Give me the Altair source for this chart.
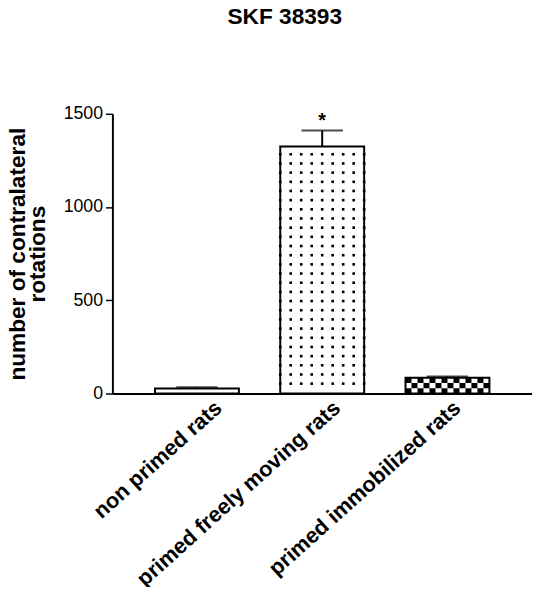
import altair as alt
import numpy as np
import pandas as pd

categories = ["non primed rats", "primed freely moving rats", "primed immobilized rats"]
means = [27, 1325, 85]
sems = [7, 85, 7]
stars = ["", "*", ""]

df = pd.DataFrame({"cat": categories, "mean": means, "sem": sems, "star": stars})
df["top"] = df["mean"] + df["sem"]

# dotted texture for the second bar (pattern decoration)
dot_cols = list(range(9))
dot_rows = list(np.arange(53, means[1] - 30, 49.2))
dots = pd.DataFrame([{"cat": categories[1], "col": c, "yv": r} for c in dot_cols for r in dot_rows])

# checkerboard texture for the third bar
chk_cols = 14
chk_rows = 3
chk = []
for c in range(chk_cols):
    for r in range(chk_rows):
        if (c + r) % 2 == 0:
            chk.append({"cat": categories[2], "col2": c,
                        "y0": means[2] * r / chk_rows, "y1": means[2] * (r + 1) / chk_rows})
chk = pd.DataFrame(chk)

FONT = "Liberation Sans"

label_offset = {
    "condition": [
        {"test": "datum.value == 'non primed rats'", "value": 22},
        {"test": "datum.value == 'primed freely moving rats'", "value": 15},
    ],
    "value": 10,
}

xenc = alt.X("cat:N", sort=categories, title=None,
             scale=alt.Scale(paddingInner=0.33, paddingOuter=0.34),
             axis=alt.Axis(labelAngle=-42, labelFontSize=22, labelFontWeight="bold",
                           labelColor="black", labelAlign="right", labelBaseline="middle",
                           labelPadding=11, ticks=False, domainColor="black", domainWidth=2,
                           labelFont=FONT, labelLimit=0, labelOffset=label_offset))
yscale = alt.Scale(domain=[0, 1500])

base = alt.Chart(df)

bars = base.mark_bar(fill="white", stroke=None).encode(
    x=xenc,
    y=alt.Y("mean:Q", scale=yscale,
            title=["number of contralateral", "rotations"],
            axis=alt.Axis(values=[0, 500, 1000, 1500], format="d", grid=False, labelFontSize=18,
                          labelColor="black", labelFont=FONT, tickColor="black",
                          tickSize=7, tickWidth=1.5, domainColor="black", domainWidth=2,
                          labelPadding=3, titleFontSize=23, titleFont=FONT,
                          titleFontWeight="bold", titleColor="black", titlePadding=14,
                          titleLineHeight=20)),
)

dot_layer = alt.Chart(dots).mark_point(filled=True, size=7, color="black", opacity=1, shape="square").encode(
    x=alt.X("cat:N", sort=categories),
    xOffset=alt.XOffset("col:N", scale=alt.Scale(paddingInner=0, paddingOuter=0)),
    y=alt.Y("yv:Q", scale=yscale),
)

chk_layer = alt.Chart(chk).mark_rect(color="black").encode(
    x=alt.X("cat:N", sort=categories),
    xOffset=alt.XOffset("col2:N", scale=alt.Scale(paddingInner=0, paddingOuter=0)),
    y=alt.Y("y0:Q", scale=yscale),
    y2="y1:Q",
)

outline = base.mark_bar(fill=None, stroke="black", strokeWidth=2).encode(
    x=alt.X("cat:N", sort=categories),
    y=alt.Y("mean:Q", scale=yscale),
)

err = base.mark_rule(color="black", strokeWidth=2).encode(
    x=alt.X("cat:N", sort=categories),
    y=alt.Y("mean:Q", scale=yscale),
    y2="top:Q",
)

cap = base.mark_tick(color="black", thickness=2, size=42, orient="horizontal").encode(
    x=alt.X("cat:N", sort=categories),
    y=alt.Y("top:Q", scale=yscale),
)

star = base.mark_text(fontSize=20, fontWeight="bold", font=FONT, color="black", dy=-10, baseline="middle").encode(
    x=alt.X("cat:N", sort=categories),
    y=alt.Y("top:Q", scale=yscale),
    text="star:N",
)

chart = alt.layer(bars, dot_layer, chk_layer, outline, err, cap, star).resolve_scale(
    xOffset="independent"
).properties(
    width=426, height=284,
    background="white",
    title=alt.Title("SKF 38393", fontSize=23, fontWeight="bold", font=FONT, color="black",
                    anchor="middle", frame="group", dx=-38, offset=77),
    autosize=alt.AutoSizeParams(type="none"),
    padding={"left": 106, "top": 103, "right": 0, "bottom": 192},
).configure_view(stroke=None, strokeWidth=0)

chart.save("out.html", embed_options={"renderer": "svg", "actions": False})
